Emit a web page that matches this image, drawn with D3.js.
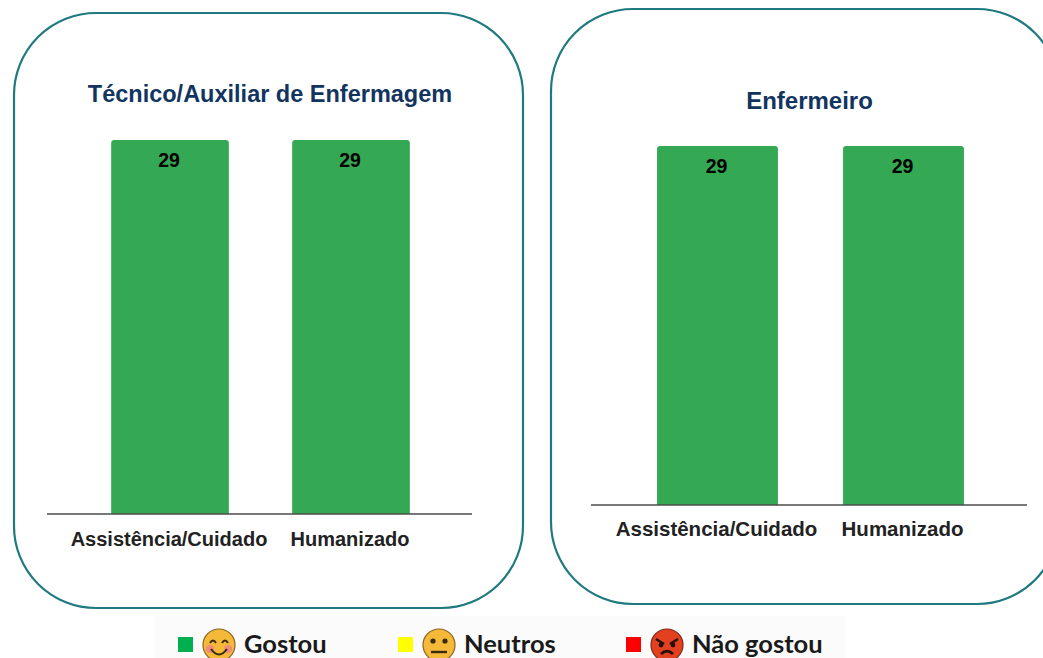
<!DOCTYPE html>
<html>
<head>
<meta charset="utf-8">
<script src="https://cdn.jsdelivr.net/npm/d3@7"></script>
<style>
  html, body { margin: 0; padding: 0; background: #fff; overflow: hidden; }
  text { font-family: "Liberation Sans", Arial, sans-serif; }
</style>
</head>
<body>
<div id="chart"></div>
<script>
// data
const categories = ["Assistência/Cuidado", "Humanizado"];
const tecnicoValues = [29, 29];
const enfermeiroValues = [29, 29];
const legendLabels = ["Gostou", "Neutros", "Não gostou"];
const legendColors = ["#00b050", "#ffff00", "#ff0000"];

const width = 1043;
const height = 658;
const barColor = "#34a853";
const panelColor = "#1f7a80";
const titleColor = "#12355f";

const svg = d3.select("#chart")
  .append("svg")
  .attr("width", width)
  .attr("height", height);

// draws one rounded panel with its title, bars and axis
function drawPanel(p) {
  svg.append("rect")
    .attr("x", p.box[0])
    .attr("y", p.box[1])
    .attr("width", p.box[2])
    .attr("height", p.box[3])
    .attr("rx", 82)
    .attr("ry", 82)
    .style("fill", "#fff")
    .style("stroke", panelColor)
    .style("stroke-width", 2.2);

  svg.append("text")
    .attr("x", p.titleX)
    .attr("y", p.titleY)
    .attr("text-anchor", "middle")
    .style("font-size", p.titleSize + "px")
    .style("font-weight", "bold")
    .style("fill", titleColor)
    .text(p.title);

  const x = d3.scaleBand()
    .domain(categories)
    .range(p.xRange)
    .paddingInner(0.35)
    .paddingOuter(0.175);

  const y = d3.scaleLinear()
    .domain([0, 29])
    .range([p.baseline, p.top]);

  const rows = categories.map((c, i) => ({ cat: c, value: p.values[i] }));
  const r = 3;

  // only the two top corners are rounded
  svg.selectAll(null)
    .data(rows)
    .enter()
    .append("path")
    .attr("d", d => {
      const x0 = x(d.cat), x1 = x0 + x.bandwidth(), t = y(d.value), b = y(0);
      return `M${x0},${b}V${t + r}Q${x0},${t} ${x0 + r},${t}H${x1 - r}Q${x1},${t} ${x1},${t + r}V${b}Z`;
    })
    .style("fill", barColor);

  svg.selectAll(null)
    .data(rows)
    .enter()
    .append("text")
    .attr("x", d => x(d.cat) + x.bandwidth() / 2 - 1)
    .attr("y", d => y(d.value) + 27)
    .attr("text-anchor", "middle")
    .style("font-size", "19.5px")
    .style("font-weight", "bold")
    .style("fill", "#000")
    .text(d => d.value);

  const axis = svg.append("g")
    .attr("transform", `translate(0,${p.baseline})`)
    .call(d3.axisBottom(x).tickSize(0).tickPadding(p.tickPad));
  axis.select(".domain").remove();
  axis.selectAll("text")
    .attr("dx", -1)
    .style("font-family", '"Liberation Sans", Arial, sans-serif')
    .style("font-size", p.tickSize + "px")
    .style("font-weight", "bold")
    .style("fill", "#222");

  svg.append("line")
    .attr("x1", p.axisX[0])
    .attr("x2", p.axisX[1])
    .attr("y1", p.baseline)
    .attr("y2", p.baseline)
    .style("stroke", "#4d4d4d")
    .style("stroke-width", 1.6);
}

drawPanel({
  box: [14, 13, 509, 595],
  title: "Técnico/Auxiliar de Enfermagem",
  titleX: 270, titleY: 102, titleSize: 23.5,
  values: tecnicoValues,
  xRange: [79.5, 441.5],
  baseline: 514, top: 140,
  axisX: [47, 472],
  tickPad: 18, tickSize: 20
});

drawPanel({
  box: [551, 9, 508, 595],
  title: "Enfermeiro",
  titleX: 809.5, titleY: 109, titleSize: 24,
  values: enfermeiroValues,
  xRange: [624.5, 996.5],
  baseline: 505, top: 146,
  axisX: [591, 1027],
  tickPad: 16, tickSize: 20.5
});

// -------------------- LEGEND --------------------
svg.append("rect")
  .attr("x", 155)
  .attr("y", 616)
  .attr("width", 690)
  .attr("height", 42)
  .style("fill", "#fbfbfb");

const legendSwatchX = d3.scaleOrdinal().domain(legendLabels).range([178, 398, 626]);

const legend = svg.selectAll(".legend-item")
  .data(legendLabels)
  .enter()
  .append("g")
  .attr("class", "legend-item")
  .attr("transform", d => `translate(${legendSwatchX(d)},645)`);

legend.append("rect")
  .attr("x", 0)
  .attr("y", -8)
  .attr("width", 15)
  .attr("height", 15)
  .style("fill", (d, i) => legendColors[i]);

legend.append("text")
  .attr("x", 66)
  .attr("y", 7.5)
  .style("font-family", "Lato, sans-serif")
  .style("font-size", "25.5px")
  .style("font-weight", "bold")
  .style("fill", "#1a1a1a")
  .text(d => d);

// faces, no emoji font here so they are drawn by hand
const face = legend.append("g").attr("transform", "translate(41,0)");
face.append("circle")
  .attr("r", 16)
  .style("fill", (d, i) => i === 2 ? "#e2401f" : "#f5b93a")
  .style("stroke", (d, i) => i === 2 ? "#7a2a14" : "#8a6420")
  .style("stroke-width", 1.2);

// smile
const happy = face.filter((d, i) => i === 0);
happy.append("circle").attr("cx", -9).attr("cy", 4).attr("r", 4).style("fill", "#f08a7a");
happy.append("circle").attr("cx", 9).attr("cy", 4).attr("r", 4).style("fill", "#f08a7a");
happy.append("path").attr("d", "M-9,-2Q-6,-7 -3,-2M3,-2Q6,-7 9,-2M-8,4Q0,15 8,4")
  .style("fill", "none").style("stroke", "#3a2a10").style("stroke-width", 2);

// neutral
const neutral = face.filter((d, i) => i === 1);
neutral.append("circle").attr("cx", -6).attr("cy", -4).attr("r", 2.6).style("fill", "#3a2a10");
neutral.append("circle").attr("cx", 6).attr("cy", -4).attr("r", 2.6).style("fill", "#3a2a10");
neutral.append("path").attr("d", "M-8,7H8")
  .style("fill", "none").style("stroke", "#3a2a10").style("stroke-width", 2.4);

// angry
const angry = face.filter((d, i) => i === 2);
angry.append("path").attr("d", "M-11,-6L-3,-1M11,-6L3,-1M-6,9Q0,3 6,9")
  .style("fill", "none").style("stroke", "#2a0f08").style("stroke-width", 2.6);
angry.append("circle").attr("cx", -6).attr("cy", 0).attr("r", 2.4).style("fill", "#2a0f08");
angry.append("circle").attr("cx", 6).attr("cy", 0).attr("r", 2.4).style("fill", "#2a0f08");
</script>
</body>
</html>
